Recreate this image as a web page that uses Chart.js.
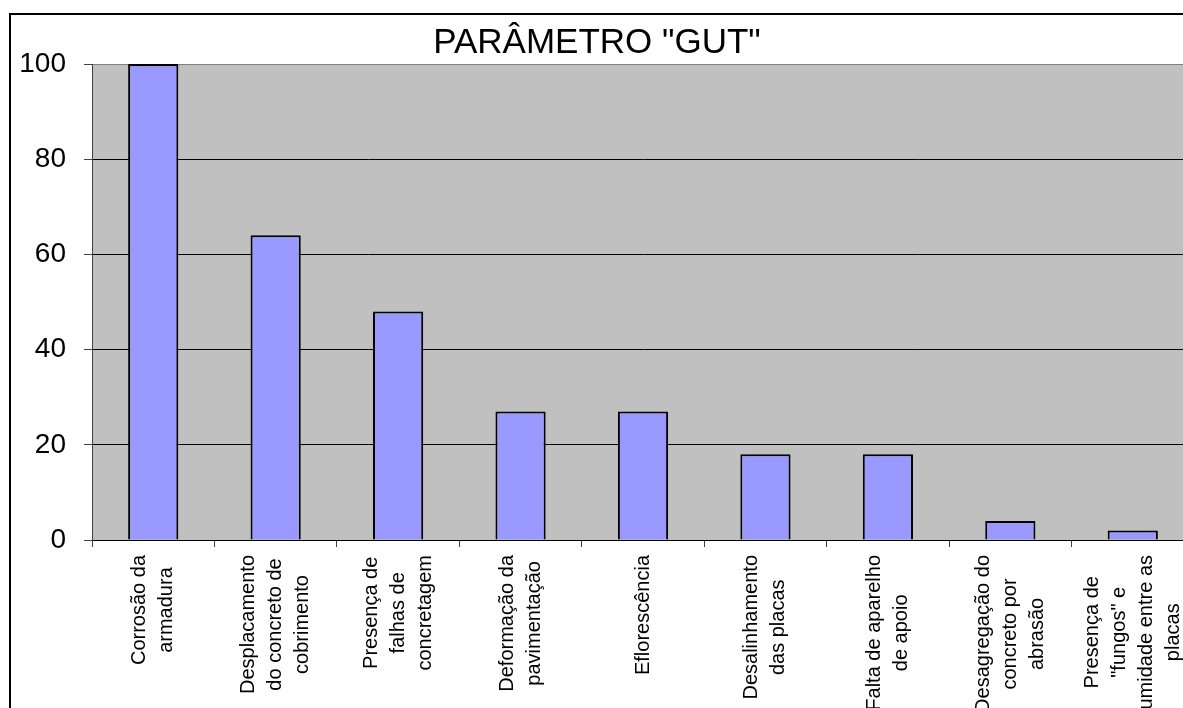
<!DOCTYPE html>
<html>
<head>
<meta charset="utf-8">
<title>PARÂMETRO "GUT"</title>
<script src="https://cdn.jsdelivr.net/npm/chart.js@4.4.0/dist/chart.umd.min.js"></script>
<style>
  html, body { margin: 0; padding: 0; width: 1183px; height: 708px; overflow: hidden; background: #fff; }
  #grafico { position: absolute; left: 0; top: 0; }
  #moldura { position: absolute; left: 9px; top: 13px; width: 1300px; height: 800px; border: 2px solid #000; pointer-events: none; }
</style>
</head>
<body>
<canvas id="grafico" width="1200" height="708"></canvas>
<div id="moldura"></div>
<script>
const titulo = 'PARÂMETRO "GUT"'

const categorias = [
  ['Corrosão da', 'armadura'],
  ['Desplacamento', 'do concreto de', 'cobrimento'],
  ['Presença de', 'falhas de', 'concretagem'],
  ['Deformação da', 'pavimentação'],
  ['Eflorescência'],
  ['Desalinhamento', 'das placas'],
  ['Falta de aparelho', 'de apoio'],
  ['Desagregação do', 'concreto por', 'abrasão'],
  ['Presença de', '"fungos" e', 'umidade entre as', 'placas'],
]

const valores = [100, 64, 48, 27, 27, 18, 18, 4, 2]

const ticksY = [0, 20, 40, 60, 80, 100]

const fuente = '"Liberation Sans", Arial, sans-serif'

// fondo gris del area de trazado
const fondoGris = {
  id: 'fondoGris',
  beforeDraw(chart) {
    const { ctx, chartArea } = chart
    ctx.save()
    ctx.fillStyle = '#C0C0C0'
    ctx.fillRect(chartArea.left, chartArea.top, chartArea.right - chartArea.left, chartArea.bottom - chartArea.top)
    ctx.restore()
  },
}

// etiquetas verticales centradas (como en Excel)
const etiquetasX = {
  id: 'etiquetasX',
  afterDraw(chart) {
    const { ctx } = chart
    const escala = chart.scales.x
    const arriba = escala.top + 15
    const alto_linea = 27

    ctx.save()
    ctx.font = '20px ' + fuente
    ctx.fillStyle = '#000'
    ctx.textAlign = 'center'
    ctx.textBaseline = 'middle'

    categorias.forEach((lineas, i) => {
      const x = escala.getPixelForTick(i)
      const ancho = Math.max(...lineas.map((l) => ctx.measureText(l).width))
      ctx.save()
      ctx.translate(x, arriba)
      ctx.rotate(-Math.PI / 2)
      lineas.forEach((linea, k) => {
        const y = (k - (lineas.length - 1) / 2) * alto_linea
        ctx.fillText(linea, -ancho / 2, y)
      })
      ctx.restore()
    })
    ctx.restore()
  },
}

const config = {
  type: 'bar',
  data: {
    labels: categorias,
    datasets: [
      {
        data: valores,
        backgroundColor: '#9999FF',
        borderColor: '#000',
        borderWidth: 2,
        categoryPercentage: 1,
        barPercentage: 0.41,
      },
    ],
  },
  options: {
    responsive: false,
    animation: false,
    devicePixelRatio: 1,
    layout: { padding: { left: 0, right: 6, top: 0, bottom: 0 } },
    plugins: {
      legend: { display: false },
      tooltip: { enabled: false },
      title: {
        display: true,
        text: titulo,
        color: '#000',
        font: { family: fuente, size: 35, weight: 'normal' },
        padding: { top: 22, bottom: 0 },
      },
    },
    scales: {
      x: {
        offset: true,
        grid: {
          offset: true,
          drawOnChartArea: false,
          drawTicks: true,
          tickLength: 7,
          tickColor: '#404040',
        },
        border: { display: true, color: '#000' },
        ticks: { display: false },
        afterFit(scale) {
          scale.height = 708 - 540
        },
      },
      y: {
        min: 0,
        max: 100,
        afterBuildTicks(scale) {
          scale.ticks = ticksY.map((v) => ({ value: v }))
        },
        grid: {
          color: (ctx) => (ctx.tick && ctx.tick.value === 100 ? '#808080' : '#000'),
          tickLength: 8,
          tickColor: '#404040',
        },
        border: { display: true, color: '#404040' },
        ticks: {
          color: '#000',
          padding: 18,
          font: { family: fuente, size: 28 },
        },
        afterFit(scale) {
          scale.width = 92
        },
      },
    },
  },
  plugins: [fondoGris, etiquetasX],
}

const grafico = new Chart(document.getElementById('grafico'), config)
</script>
</body>
</html>
